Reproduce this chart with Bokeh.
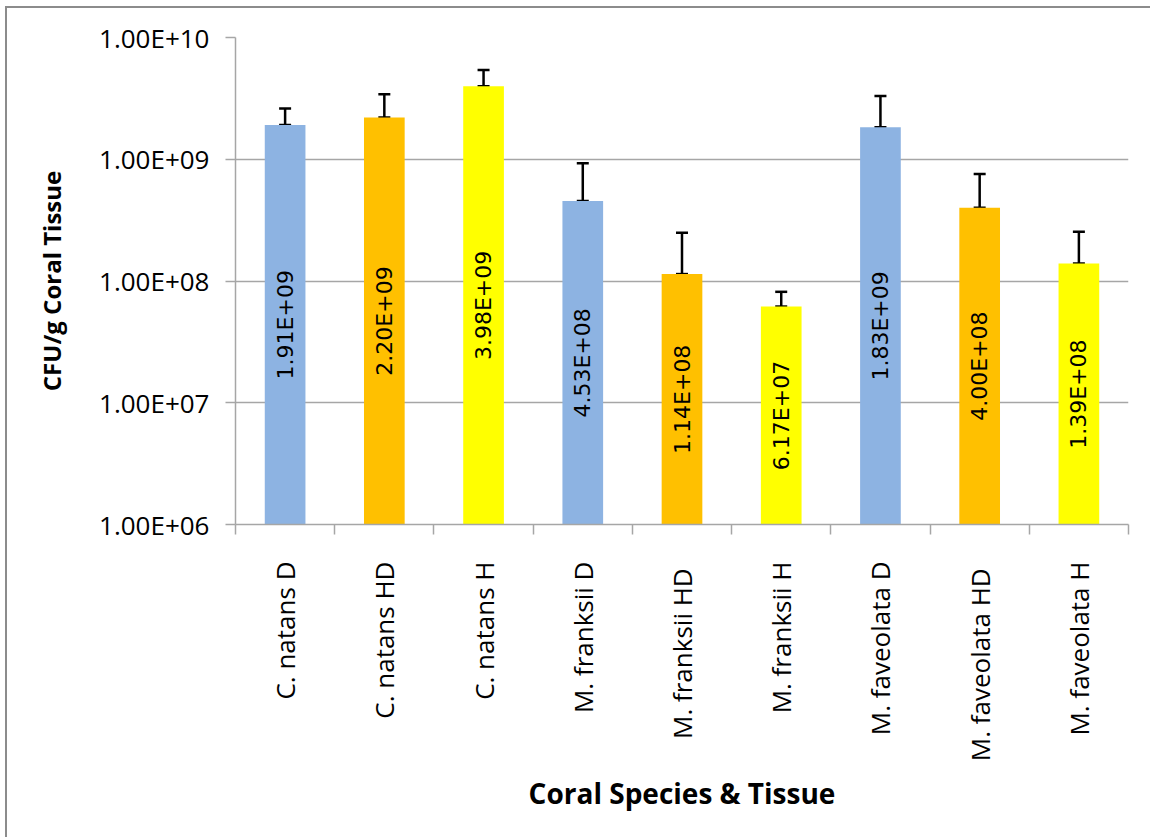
import numpy as np
from bokeh.plotting import figure
from bokeh.models import (ColumnDataSource, FixedTicker, Range1d, Whisker,
                          TeeHead, CustomJSTickFormatter)
from bokeh.core.properties import value
from bokeh.embed import file_html
from bokeh.resources import INLINE

# Coral samples: species + tissue type
categories = ["C. natans D", "C. natans HD", "C. natans H",
              "M. franksii D", "M. franksii  HD", "M. franksii H",
              "M. faveolata D", "M. faveolata  HD", "M. faveolata H"]
tissue = ["D", "HD", "H", "D", "HD", "H", "D", "HD", "H"]

# Mean CFU per gram of coral tissue and the standard deviation (upper bar)
cfu = [1.91e9, 2.20e9, 3.98e9, 4.53e8, 1.14e8, 6.17e7, 1.83e9, 4.00e8, 1.39e8]
sd = [0.70e9, 1.22e9, 1.44e9, 4.74e8, 1.35e8, 1.98e7, 1.47e9, 3.57e8, 1.15e8]

y_ticks = [1e6, 1e7, 1e8, 1e9, 1e10]
tissue_colors = {"D": "#8DB3E2", "HD": "#FFC000", "H": "#FFFF00"}

GRID = "#a6a6a6"
y_floor = y_ticks[0]

xpos = np.arange(len(categories))
src = ColumnDataSource(dict(
    x=xpos,
    cfu=cfu,
    upper=np.array(cfu) + np.array(sd),
    color=[tissue_colors[t] for t in tissue],
    label=[f"{v:.2E}" for v in cfu],
    label_y=np.sqrt(np.array(cfu) * y_floor),
))

p = figure(frame_width=893, frame_height=487,
           min_border_left=228, min_border_top=29,
           min_border_right=22, min_border_bottom=313,
           x_range=Range1d(-0.5, len(categories) - 0.5),
           y_range=Range1d(y_ticks[0], y_ticks[-1]),
           y_axis_type="log",
           output_backend="svg", toolbar_location=None,
           background_fill_color="white", border_fill_color="white",
           margin=(6, 0, 0, 5),
           styles={"border-left": "2px solid #8c8c8c",
                   "border-top": "2px solid #8c8c8c"})
p.outline_line_color = None

# bars
p.vbar(x="x", top="cfu", bottom=y_floor, width=0.41, source=src,
       fill_color="color", line_color=None)

# error bars
p.add_layout(Whisker(base="x", lower="cfu", upper="upper", source=src,
                     line_color="black", line_width=2.5,
                     upper_head=TeeHead(size=12, line_width=2.5, line_color="black"),
                     lower_head=TeeHead(size=12, line_width=2.5, line_color="black")))

# value labels inside the bars
p.text(x="x", y="label_y", text="label", source=src, angle=np.pi / 2,
       text_align="center", text_baseline="middle",
       text_font=value("DejaVu Sans"), text_font_size="22px",
       text_color="black")

# x axis: labels at bar centres, small ticks between categories
xa = p.xaxis[0]
xa.ticker = FixedTicker(ticks=list(xpos),
                        minor_ticks=list(np.arange(len(categories) + 1) - 0.5))
xa.major_label_overrides = {int(i): c for i, c in zip(xpos, categories)}
xa.major_label_orientation = np.pi / 2
xa.major_tick_out = 0
xa.major_tick_in = 0
xa.minor_tick_out = 10
xa.minor_tick_in = 0
xa.minor_tick_line_color = GRID
xa.minor_tick_line_width = 1.5
xa.axis_line_color = GRID
xa.axis_line_width = 1.5
xa.major_label_standoff = 27
xa.major_label_text_font = "Open Sans"
xa.major_label_text_font_size = "26px"
xa.major_label_text_color = "black"
xa.axis_label = "Coral Species & Tissue"
xa.axis_label_text_font = "Open Sans"
xa.axis_label_text_font_style = "bold"
xa.axis_label_text_font_size = "28px"
xa.axis_label_text_color = "black"
xa.axis_label_standoff = 10

# y axis: log scale with scientific labels
ya = p.yaxis[0]
ya.ticker = FixedTicker(ticks=y_ticks)
ya.formatter = CustomJSTickFormatter(code="""
    const parts = tick.toExponential(2).split('e');
    const e = parseInt(parts[1]);
    return parts[0] + 'E' + (e < 0 ? '-' : '+') + String(Math.abs(e)).padStart(2, '0');
""")
ya.major_tick_out = 10
ya.major_tick_in = 0
ya.major_tick_line_color = GRID
ya.major_tick_line_width = 1.5
ya.minor_tick_out = 0
ya.minor_tick_in = 0
ya.axis_line_color = GRID
ya.axis_line_width = 1.5
ya.major_label_standoff = 16
ya.major_label_text_font = "Open Sans"
ya.major_label_text_font_size = "26px"
ya.major_label_text_color = "black"
ya.axis_label = "CFU/g Coral Tissue"
ya.axis_label_text_font = "Open Sans"
ya.axis_label_text_font_style = "bold"
ya.axis_label_text_font_size = "24px"
ya.axis_label_text_color = "black"
ya.axis_label_standoff = 28

p.xgrid.visible = False
p.ygrid.ticker = FixedTicker(ticks=y_ticks)
p.ygrid.grid_line_color = GRID
p.ygrid.grid_line_width = 1.5

open("out.html", "w").write(file_html(p, INLINE))
